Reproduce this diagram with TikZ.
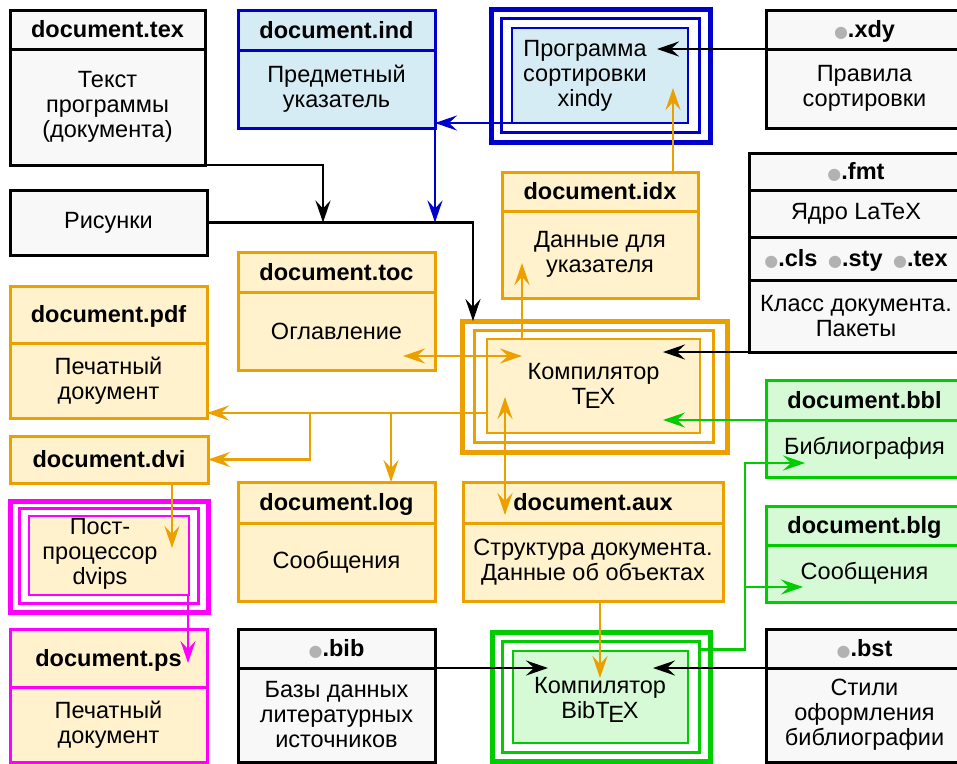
\documentclass[tikz,border=0pt]{standalone}
\usepackage{fontspec}
\setmainfont{Liberation Sans}
\newfontfamily\symfont{DejaVu Sans}
\usetikzlibrary{fit, calc, arrows.meta}

\definecolor{grayfill}{RGB}{248,248,248}
\definecolor{dotgray}{RGB}{178,178,178}
\definecolor{ocol}{RGB}{235,160,0}
\definecolor{ofill}{RGB}{255,242,204}
\definecolor{bcol}{RGB}{0,0,204}
\definecolor{bfill}{RGB}{214,236,244}
\definecolor{gcol}{RGB}{0,204,0}
\definecolor{gfill}{RGB}{213,250,213}
\definecolor{mcol}{RGB}{255,0,255}

\newcommand\sfTeX{T\kern-.06em\lower.35ex\hbox{E}\kern-.04em X}
\newcommand\dotc{{\symfont\fontsize{16}{16}\selectfont\textcolor{dotgray}{●}}}

% name, draw, fill, corner, corner, divider y, header, body
\newcommand\filebox[8]{%
  \node[filebase, draw=#2, fill=#3, fit={(#4) (#5)}] (#1) {};
  \draw[line width=3pt, draw=#2] (#1.west |- 0,#6) coordinate (#1-d) -- (#1.east |- 0,#6);
  \node[head] (#1-h) at ($(#1.north)!.5!(#1.north |- #1-d)$) {#7};
  \node[body] (#1-b) at ($(#1.south)!.5!(#1.south |- #1-d)$) {#8};
}
% name, draw, fill, outer corners, inner corners
\newcommand\tribox[7]{%
  \node[tribase, line width=5pt, draw=#2, fit={(#4) (#5)}] (#1o) {};
  \node[tribase, line width=3pt, draw=#2, fit={($(#4)!.5!(#6)$) ($(#5)!.5!(#7)$)}] (#1m) {};
  \node[tribase, line width=2.5pt, draw=#2, fill=#3, fit={(#6) (#7)}] (#1) {};
}

\begin{document}
\begin{tikzpicture}[x=1pt, y=-1pt,
  filebase/.style={inner sep=0pt, outer sep=0pt, line width=3pt},
  tribase/.style={inner sep=0pt, outer sep=0pt},
  head/.style={font=\fontsize{23.5}{25}\selectfont\bfseries, inner sep=0pt, text height=18pt, text depth=2pt},
  body/.style={font=\fontsize{23.5}{25}\selectfont, align=center, inner sep=0pt},
  >={Stealth[length=22pt, width=15pt, inset=8pt]},
  conn/.style={line width=2.6pt, ->},
]
\useasboundingbox (0,0) rectangle (957,763);

% files
\filebox{tex}{black}{grayfill}{10,10}{205,165}{49}{document.tex}{Текст\\программы\\(документа)}
\filebox{ind}{bcol}{bfill}{238,10}{435,128}{50}{document.ind}{Предметный\\указатель}
\filebox{xdy}{black}{grayfill}{766,10}{963,128}{49}{\dotc.xdy}{Правила\\сортировки}
\filebox{idx}{ocol}{ofill}{502,172}{698,298}{211}{document.idx}{Данные для\\указателя}
\filebox{toc}{ocol}{ofill}{238,252}{435,370}{292}{document.toc}{Оглавление}
\filebox{pdf}{ocol}{ofill}{10,286}{207,418}{343}{document.pdf}{Печатный\\документ}
\filebox{log}{ocol}{ofill}{238,482}{435,601}{523}{document.log}{Сообщения}
\filebox{aux}{ocol}{ofill}{463,482}{723,601}{523}{document.aux}{Структура документа.\\Данные об объектах}
\filebox{ps}{mcol}{ofill}{10,629}{207,762}{687}{document.ps}{Печатный\\документ}
\filebox{bib}{black}{grayfill}{238,629}{435,762}{668}{\dotc.bib}{Базы данных\\литературных\\источников}
\filebox{bst}{black}{grayfill}{766,629}{963,762}{668}{\dotc.bst}{Стили\\оформления\\библиографии}
\filebox{bbl}{gcol}{gfill}{766,380}{963,477}{420}{document.bbl}{Библиография}
\filebox{blg}{gcol}{gfill}{766,506}{963,602}{545}{document.blg}{Сообщения}

\node[filebase, draw=black, fill=grayfill, fit={(10,190) (207,255)}] (pics) {};
\node[body] (pics-t) at (pics.center) {Рисунки};
\node[filebase, draw=ocol, fill=ofill, fit={(10,436) (208,483)}] (dvi) {};
\node[head] (dvi-t) at (dvi.center) {document.dvi};

% format and classes
\node[filebase, draw=black, fill=grayfill, fit={(749,153) (963,352)}] (fmt) {};
\foreach \yd in {190,237,280}
  \draw[line width=3pt] (fmt.west |- 0,\yd) -- (fmt.east |- 0,\yd);
\node[head] (fmt-h) at (856,171.5) {\dotc.fmt};
\node[body] (fmt-k) at (856,213.5) {Ядро LaTeX};
\node[head] (fmt-e) at (856,258.5) {\dotc.cls\hspace{.45em}\dotc.sty\hspace{.45em}\dotc.tex};
\node[body] (fmt-b) at (856,316) {Класс документа.\\Пакеты};

% programs
\tribox{xindy}{bcol}{bfill}{491,9}{710,142}{512,28}{688,123}
\node[body] (xindy-t) at (585,76) {Программа\\сортировки\\xindy};
\tribox{texc}{ocol}{ofill}{462,321}{727,452}{487,339}{700,433}
\node[body] (texc-t) at (texc.center) {Компилятор\\\sfTeX};
\tribox{dvips}{mcol}{ofill}{10,501}{208,612}{29,516}{189,595}
\node[body] (dvips-t) at (100,554) {Пост-\\процессор\\dvips};
\tribox{bibtex}{gcol}{gfill}{492,632}{710,761}{513,651}{688,743}
\node[body] (bibtex-t) at (600,700) {Компилятор\\Bib\sfTeX};

% connectors
\draw[conn] (tex.south east) -| ($(pics.east)+(116,0)$);
\draw[conn] (pics.east) -| ($(texco.north west)+(11,0)$);
\draw[conn, bcol] (ind.south east) -- (ind.south east |- pics.east);
\draw[conn, bcol] (xindy.south west) -- (ind.east |- xindy.south west);
\draw[conn] (xdy-d) -- ($(xindy.north east)+(-31,21)$);
\draw[conn, ocol] ($(idx.north west)+(171,0)$) -- ($(xindy.north west)+(161,60)$);
\draw[conn, ocol] ($(texc.north west)+(35,0)$) -- ($(idx.south west)+(20,-35)$);
\draw[conn] (fmt.south west) -- ($(texc.north east)+(-37,13)$);
\draw[conn, ocol, <->] ($(toc.south east)+(-32,-14)$) -- ($(texc.north west)+(35,17)$);
\coordinate (texout) at ($(texc.south west)+(0,-20)$);
\draw[conn, ocol] (texout) -- (texout -| pdf.east);
\draw[conn, ocol] ($(texout -| pdf.east)+(103,0)$) |- (dvi.east);
\coordinate (login) at ($(log.north west)+(153,0)$);
\draw[conn, ocol] (login |- texout) -- (login);
\draw[conn, ocol, <->] ($(texc.south west)+(18,-36)$) -- ($(aux.north west)+(42,33)$);
\draw[conn, gcol] (bbl-d) -- ($(texc.east |- bbl-d)+(-37,0)$);
\draw[conn, ocol] ($(dvi.south west)+(162,0)$) -- ($(dvips.north west)+(143,32)$);
\draw[conn, mcol] ($(dvips.south east)+(-1,0)$) -- ($(ps.north east)+(-19,34)$);
\draw[conn, ocol] ($(aux.south west)+(137,0)$) -- ($(bibtex.north west)+(87,27)$);
\draw[conn] (bib-d -| bib.east) -- ($(bibtex.north west)+(35,17)$);
\draw[conn] (bst-d) -- ($(bibtex.north east)+(-35,17)$);
\draw[conn, gcol] ($(bibtexm.north east)+(0,8)$) -| ($(bbl-d)+(-21,43)$) -- ($(bbl-d)+(39,43)$);
\draw[conn, gcol] ($(blg-d)+(-21,42)$) -- ($(blg-d)+(37,42)$);
\end{tikzpicture}
\end{document}
